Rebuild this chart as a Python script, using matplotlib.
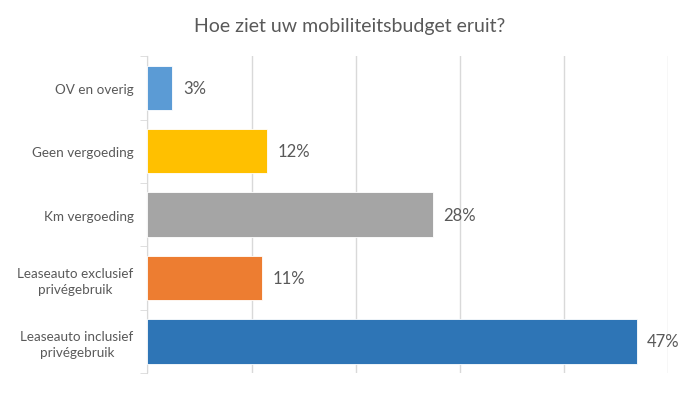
import matplotlib.pyplot as plt
import numpy as np

categories = ['OV en overig', 'Geen vergoeding', 'Km vergoeding',
              'Leaseauto exclusief\nprivégebruik', 'Leaseauto inclusief\nprivégebruik']
values = [2.4, 11.5, 27.4, 11.0, 47.0]
value_labels = ['3%', '12%', '28%', '11%', '47%']
colors = ['#5B9BD5', '#FFC000', '#A5A5A5', '#ED7D31', '#2E75B6']

plt.rcParams['font.family'] = ['Lato', 'DejaVu Sans']

fig = plt.figure(figsize=(7, 4.14), dpi=100)
ax = fig.add_axes([0.2107, 0.0966, 0.7433, 0.7654])

y = np.arange(len(categories))
ax.barh(y, values, height=0.7, color=colors, edgecolor='white', linewidth=0.6, zorder=3)

for yi, v, lab in zip(y, values, value_labels):
    ax.text(v + 1.0, yi, lab, va='center', ha='left', fontsize=12, color='#595959')

ax.set_xlim(0, 50)
ax.set_ylim(len(categories) - 0.5, -0.5)
ax.set_xticks(np.arange(0, 51, 10))
ax.set_xticklabels([])
ax.tick_params(axis='x', length=0)
ax.grid(axis='x', color='#D9D9D9', linewidth=1, zorder=0)

ax.set_yticks(y)
ax.set_yticklabels(categories, fontsize=9.7, color='#595959', linespacing=1.4,
                   multialignment='center')
ax.tick_params(axis='y', length=0, pad=10)
ax.set_yticks(np.arange(-0.5, len(categories)), minor=True)
ax.tick_params(axis='y', which='minor', length=5, color='#D9D9D9')

for s in ['top', 'right', 'bottom']:
    ax.spines[s].set_visible(False)
ax.spines['left'].set_color('#D9D9D9')

fig.text(0.5, 0.935, 'Hoe ziet uw mobiliteitsbudget eruit?', ha='center', va='center',
         fontsize=14, color='#595959')

fig.savefig('out.png', dpi=100)
